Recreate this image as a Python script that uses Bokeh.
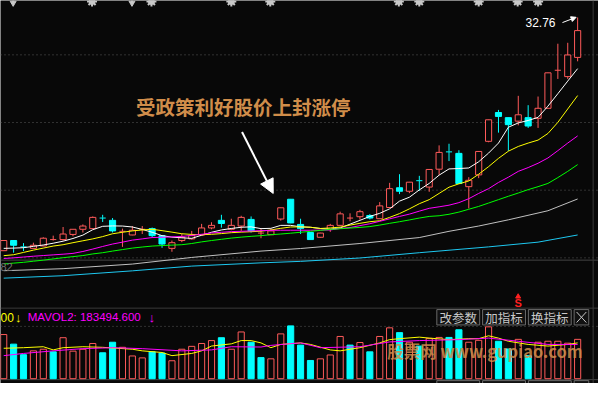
import numpy as np
from bokeh.plotting import figure
from bokeh.models import Range1d, Span, Label, Arrow, NormalHead, ColumnDataSource
from bokeh.embed import file_html
from bokeh.resources import INLINE

# ---------------- data ----------------
open_ = [15.53, 16.28, 15.83, 15.70, 15.88, 16.35, 16.35, 16.73, 17.11, 17.16,
         17.96, 17.77, 16.92, 16.69, 17.11, 17.16, 16.64, 15.70, 16.28, 16.40,
         16.69, 17.21, 17.77, 17.11, 17.35, 17.84, 16.83, 16.71, 17.87, 19.33,
         17.47, 16.87, 16.52, 17.11, 17.40, 17.94, 18.04, 18.13, 17.89, 18.72,
         20.18, 19.92, 20.72, 20.23, 21.55, 22.85, 22.72, 20.26, 21.13, 23.61,
         25.74, 25.36, 25.10, 25.36, 25.31, 26.05, 28.86, 28.39, 29.81]
close = [16.28, 15.93, 15.81, 15.93, 16.45, 16.35, 16.76, 17.11, 17.35, 17.99,
         17.94, 16.99, 16.96, 17.04, 17.11, 16.64, 16.02, 16.12, 16.52, 16.64,
         17.21, 17.40, 17.54, 17.40, 17.99, 16.99, 16.83, 16.99, 18.70, 17.58,
         17.16, 16.35, 16.83, 17.40, 18.25, 17.94, 18.41, 17.94, 18.84, 20.11,
         19.92, 20.59, 20.70, 21.53, 22.79, 22.83, 20.49, 20.73, 22.86, 25.20,
         25.45, 24.84, 25.57, 24.74, 26.05, 28.67, 28.86, 29.99, 31.79]
high = [16.30, 16.30, 16.09, 16.12, 16.52, 16.64, 17.28, 17.13, 17.47, 18.06,
        18.18, 17.94, 17.16, 17.35, 17.35, 17.24, 16.66, 16.28, 16.76, 16.99,
        17.51, 17.63, 18.18, 17.89, 18.11, 18.06, 17.16, 17.16, 18.72, 19.35,
        17.89, 16.89, 16.85, 17.51, 18.41, 18.29, 18.55, 18.23, 19.12, 20.54,
        21.18, 20.61, 21.06, 21.55, 23.31, 23.43, 22.95, 20.96, 22.88, 25.22,
        25.93, 25.38, 26.97, 26.28, 26.92, 28.69, 30.82, 30.89, 32.76]
low = [15.50, 15.38, 15.50, 15.68, 15.86, 16.28, 16.28, 16.59, 16.87, 17.14,
       17.65, 16.87, 15.81, 16.67, 16.76, 16.52, 15.74, 15.45, 16.16, 16.35,
       16.67, 17.11, 17.23, 17.04, 16.99, 16.87, 16.45, 16.69, 17.75, 17.56,
       16.76, 16.33, 16.48, 16.92, 17.38, 17.70, 17.82, 17.84, 17.87, 18.70,
       19.71, 19.78, 19.95, 19.88, 21.13, 22.15, 20.47, 18.65, 20.89, 23.54,
       24.25, 22.90, 24.79, 24.60, 24.60, 26.03, 28.22, 28.22, 29.52]
volume = [236400, 185000, 128500, 149100, 157800, 143900, 219500, 147500, 157800, 188600,
          138800, 195300, 168100, 121800, 111500, 143900, 137200, 96100, 157800, 173200,
          188600, 204100, 219500, 157800, 250300, 195300, 113100, 106400, 240000, 282700,
          179900, 97700, 106400, 127000, 226200, 179900, 193800, 143900, 226200, 272400,
          246700, 195300, 174800, 215900, 221000, 221000, 262100, 195300, 205600, 277600,
          200500, 159300, 210700, 123400, 195300, 200500, 200500, 190200, 210700]

ma5 = [15.70, 15.72, 15.75, 15.85, 15.95, 16.08, 16.23, 16.43, 16.68, 17.08,
       17.33, 17.36, 17.35, 17.28, 17.10, 16.89, 16.64, 16.53, 16.48, 16.44,
       16.67, 16.89, 17.06, 17.17, 17.26, 17.29, 17.16, 17.18, 17.40, 17.40,
       17.29, 17.26, 17.17, 17.11, 17.21, 17.49, 17.77, 18.06, 18.29, 18.62,
       19.19, 19.48, 20.02, 20.50, 21.11, 21.57, 21.60, 21.64, 22.10, 22.74,
       23.48, 24.65, 24.97, 25.15, 25.38, 26.21, 27.13, 28.06, 28.98]
ma10 = [15.16, 15.23, 15.40, 15.57, 15.72, 15.87, 15.97, 16.12, 16.26, 16.40,
        16.57, 16.78, 16.89, 16.99, 17.06, 17.11, 17.01, 16.90, 16.78, 16.73,
        16.71, 16.74, 16.79, 16.86, 16.90, 16.93, 16.97, 17.06, 17.18, 17.28,
        17.29, 17.26, 17.17, 17.21, 17.27, 17.42, 17.55, 17.67, 17.74, 17.99,
        18.27, 18.62, 19.00, 19.30, 19.76, 20.22, 20.47, 20.68, 21.18, 21.74,
        22.35, 22.88, 23.23, 23.48, 23.70, 24.19, 25.01, 26.00, 26.99]
ma20 = [14.95, 15.00, 15.06, 15.12, 15.17, 15.22, 15.27, 15.33, 15.47, 15.65,
        15.84, 16.02, 16.16, 16.31, 16.40, 16.50, 16.52, 16.55, 16.58, 16.66,
        16.74, 16.84, 16.89, 16.94, 16.96, 16.99, 17.01, 17.03, 17.04, 17.04,
        17.04, 17.04, 17.05, 17.06, 17.17, 17.24, 17.38, 17.52, 17.70, 17.88,
        18.06, 18.23, 18.45, 18.66, 18.77, 18.89, 19.08, 19.37, 19.76, 20.11,
        20.57, 20.96, 21.39, 21.67, 21.99, 22.38, 22.92, 23.48, 24.01]
ma30 = [14.55, 14.61, 14.67, 14.75, 14.83, 14.92, 15.01, 15.09, 15.17, 15.29,
        15.38, 15.50, 15.61, 15.72, 15.80, 15.87, 15.91, 15.94, 15.97, 16.06,
        16.18, 16.28, 16.37, 16.46, 16.53, 16.59, 16.64, 16.71, 16.76, 16.82,
        16.89, 16.96, 17.03, 17.10, 17.15, 17.20, 17.25, 17.31, 17.42, 17.55,
        17.67, 17.80, 17.94, 18.06, 18.11, 18.22, 18.38, 18.59, 18.80, 19.05,
        19.30, 19.55, 19.79, 20.04, 20.26, 20.50, 20.93, 21.39, 21.89]
ma60_idx = [0, 6, 13, 19, 26, 30, 36, 42, 45, 48, 51, 55, 58]
ma60 = [14.05, 14.20, 14.54, 15.03, 15.50, 15.69, 16.06, 16.50, 16.96, 17.35, 17.81, 18.48, 19.35]
ma120_idx = [0, 6, 13, 19, 26, 30, 36, 42, 49, 54, 58]
ma120 = [13.50, 13.68, 14.04, 14.39, 14.63, 14.74, 14.99, 15.38, 15.81, 16.16, 16.69]

mavol1_idx = [0, 2, 4, 5, 6, 8, 10, 13, 14, 16, 17, 19, 20, 21, 23, 24, 25, 26, 27, 28,
              30, 31, 33, 34, 36, 38, 39, 40, 42, 43, 45, 47, 48, 49, 50, 51, 53, 55, 57, 58]
mavol1 = [162900, 166000, 171200, 154200, 166000, 171200, 168000, 157800, 149100, 140300,
          123400, 135200, 149100, 174800, 186600, 204100, 204100, 191700, 166000, 183500,
          191700, 183500, 154200, 149100, 166000, 191700, 209200, 214300, 222600, 217400,
          209200, 214300, 214300, 229800, 217400, 200500, 183500, 174800, 183500, 191700]
mavol2_idx = [0, 2, 5, 8, 11, 14, 18, 21, 23, 26, 27, 30, 32, 36, 39, 42, 46, 49, 52, 55, 58]
mavol2 = [123400, 135200, 149100, 160900, 166000, 160900, 149100, 154200, 171200, 169600,
          178400, 191700, 166000, 171200, 196900, 204100, 209200, 217400, 200500, 183500, 183494.6]

grid_levels = [15, 20, 25, 30]
annotation_text = "受政策利好股价上封涨停"
buttons = ["改参数", "加指标", "换指标"]
watermark = "股票网 www.gupiao.com"

# ---------------- layout helpers (reference pixel -> data) ----------------
W, H = 598, 383
def X(px):
    return (px - 3.3) / 10.16
def P(py):
    return 30 - (py - 56.6) / 14.1
def V(py):
    return (394 - py) * 5140

BG = "#080808"
RED = "#ff5a5a"
CYAN = "#00ffff"
BW = 0.62

p = figure(width=W, height=H, x_range=Range1d(X(0), X(614)), y_range=Range1d(P(399), P(0)),
           output_backend="svg", toolbar_location=None, x_axis_location=None, y_axis_location=None,
           min_border=0, background_fill_color=BG, border_fill_color=BG, outline_line_color=None)
p.extra_y_ranges = {"vol": Range1d(V(399), V(0))}
p.xgrid.visible = False
p.ygrid.visible = False

# separators & grid
for lv in grid_levels:
    p.add_layout(Span(location=lv, dimension="width", line_color="#5a5a5a", line_dash="1 3",
                      line_width=1, level="underlay"))
p.add_layout(Span(location=P(270.5), dimension="width", line_color="#444444", line_width=1, level="underlay"))
p.add_layout(Span(location=P(320.5), dimension="width", line_color="#3a3a3a", line_width=1, level="underlay"))
p.add_layout(Span(location=P(339.5), dimension="width", line_color="#5a5a5a", line_dash="1 3",
                  line_width=1, level="underlay"))
p.add_layout(Span(location=P(395), dimension="width", line_color="#444444", line_width=1, level="underlay"))
p.add_layout(Span(location=X(608.5), dimension="height", line_color="#3a3a3a", line_width=1, level="underlay"))

n = len(close)
idx = np.arange(n)
o = np.array(open_); c = np.array(close); h = np.array(high); l = np.array(low)
vol = np.array(volume, dtype=float)

up = c >= o
doji = np.abs(c - o) < 0.05
prev_c = np.concatenate([[c[0]], c[:-1]])
vol_up = np.where(np.abs(c - o) < 0.005, c >= prev_c, c > o)
col = np.where(up, RED, CYAN)
btop = np.maximum(o, c)
bbot = np.minimum(o, c)

# wicks
p.segment(x0=idx, y0=btop, x1=idx, y1=h, line_color=list(col), line_width=1)
p.segment(x0=idx, y0=l, x1=idx, y1=bbot, line_color=list(col), line_width=1)
# bodies
m = ~doji
body = ColumnDataSource(dict(left=idx[m] - BW / 2, right=idx[m] + BW / 2, top=btop[m], bottom=bbot[m],
                             fill=[BG if u else CYAN for u in up[m]], line=list(col[m])))
p.quad(left="left", right="right", top="top", bottom="bottom", fill_color="fill", line_color="line",
       line_width=1, source=body)
# doji crosses
p.segment(x0=idx[doji] - BW / 2, y0=c[doji], x1=idx[doji] + BW / 2, y1=c[doji],
          line_color=list(col[doji]), line_width=1)

# moving averages
p.line(idx, ma5, line_color="#ffffff", line_width=1)
p.line(idx, ma10, line_color="#ffff00", line_width=1)
p.line(idx, ma20, line_color="#ff00ff", line_width=1)
p.line(idx, ma30, line_color="#00ff00", line_width=1)
p.line(ma60_idx, ma60, line_color="#c0c0c0", line_width=1)
p.line(ma120_idx, ma120, line_color="#1ec8f0", line_width=1)

# volume bars
vcol = np.where(vol_up, RED, CYAN)
vsrc = ColumnDataSource(dict(left=idx - BW / 2, right=idx + BW / 2, top=vol, bottom=np.zeros(n),
                             fill=[BG if u else CYAN for u in vol_up], line=list(vcol)))
p.quad(left="left", right="right", top="top", bottom="bottom", fill_color="fill", line_color="line",
       line_width=1, source=vsrc, y_range_name="vol")
p.line(mavol1_idx, mavol1, line_color="#ffff00", line_width=1, y_range_name="vol")
p.line(mavol2_idx, mavol2, line_color="#ff00ff", line_width=1, y_range_name="vol")

# top signal icons (cut by the top edge)
star_px = [94, 155, 237, 277, 409, 430, 491, 531, 552]
p.scatter(x=[X(s) for s in star_px], y=[P(1)] * len(star_px), marker="asterisk", size=10,
          line_color="#c8c8c8", line_width=2)
p.scatter(x=[X(s) for s in star_px], y=[P(1)] * len(star_px), marker="circle", size=6,
          fill_color="#c8c8c8", line_color="#c8c8c8")
p.scatter(x=[X(13), X(135)], y=[P(2.5)] * 2, marker="inverted_triangle", size=6,
          fill_color="#c8c8c8", line_color="#c8c8c8")
p.segment(x0=[X(13), X(135)], y0=[P(0)] * 2, x1=[X(13), X(135)], y1=[P(3)] * 2,
          line_color="#c8c8c8", line_width=2)

# annotation text & arrow
p.add_layout(Label(x=X(139), y=P(110), text=annotation_text, text_font="Noto Sans CJK SC",
                   text_font_style="bold", text_font_size="19.5px", text_color="#d08d4a",
                   text_baseline="middle", text_align="left"))
p.add_layout(Arrow(x_start=X(248), y_start=P(137), x_end=X(280), y_end=P(201), line_color="white",
                   line_width=2, end=NormalHead(size=14, fill_color="white", line_color="white")))

# highest price label
p.add_layout(Label(x=X(539), y=P(22.5), text=f"{max(high):.2f}", text_font="Liberation Sans",
                   text_font_size="12px", text_color="#ffffff", text_baseline="middle"))
p.add_layout(Arrow(x_start=X(577), y_start=P(23), x_end=X(591), y_end=P(17.5), line_color="white",
                   line_width=1, end=NormalHead(size=5, fill_color="white", line_color="white")))

# left-edge axis fragment
p.add_layout(Label(x=X(0), y=P(278), text="82", text_font="Liberation Sans", text_font_size="11px",
                   text_color="#707070", text_baseline="middle"))

# volume header
p.add_layout(Label(x=X(0), y=P(330), text="00", text_font="Liberation Sans", text_font_size="12px",
                   text_color="#ffff00", text_baseline="middle"))
p.add_layout(Label(x=X(15), y=P(330), text="↓", text_font="Liberation Sans", text_font_size="13px",
                   text_color="#ffff00", text_baseline="middle"))
p.add_layout(Label(x=X(28), y=P(330), text=f"MAVOL2: {mavol2[-1]:.3f}", text_font="Liberation Sans",
                   text_font_size="11.5px", text_color="#ff00ff", text_baseline="middle"))
p.add_layout(Label(x=X(152), y=P(330), text="↓", text_font="Liberation Sans", text_font_size="13px",
                   text_color="#ff00ff", text_baseline="middle"))

# S marker
p.scatter(x=[X(531.5)], y=[P(308.5)], marker="triangle", size=5, fill_color="#ff2020", line_color="#ff2020")
p.add_layout(Label(x=X(531.5), y=P(315), text="S", text_font="Liberation Sans", text_font_style="bold",
                   text_font_size="11px", text_color="#ff2020", text_baseline="middle", text_align="center"))

# buttons (row in view, plus the top edge of the next row)
bx = [(448, 492), (495, 539), (542, 586), (589, 604)]
for top, bot in [(322, 338), (396, 412)]:
    p.quad(left=[X(a) for a, b in bx], right=[X(b) for a, b in bx], top=[P(top)] * 4, bottom=[P(bot)] * 4,
           fill_color="#111111", line_color="#6a6a6a", line_width=1)
for (a, b), t in zip(bx[:3], buttons):
    p.add_layout(Label(x=X((a + b) / 2), y=P(330), text=t, text_font="Noto Sans CJK SC",
                       text_font_size="12.5px", text_color="#c8c8c8", text_baseline="middle",
                       text_align="center"))
p.segment(x0=[X(591.5), X(591.5)], y0=[P(324.5), P(335.5)], x1=[X(601.5), X(601.5)], y1=[P(335.5), P(324.5)],
          line_color="#c8c8c8", line_width=1)

# watermark
p.add_layout(Label(x=X(397), y=P(365), text=watermark, text_font="Noto Sans CJK SC",
                   text_font_style="bold", text_font_size="16.5px", text_color="#d08d4a", text_alpha=0.85,
                   text_baseline="middle"))

open("out.html", "w").write(file_html(p, INLINE))
